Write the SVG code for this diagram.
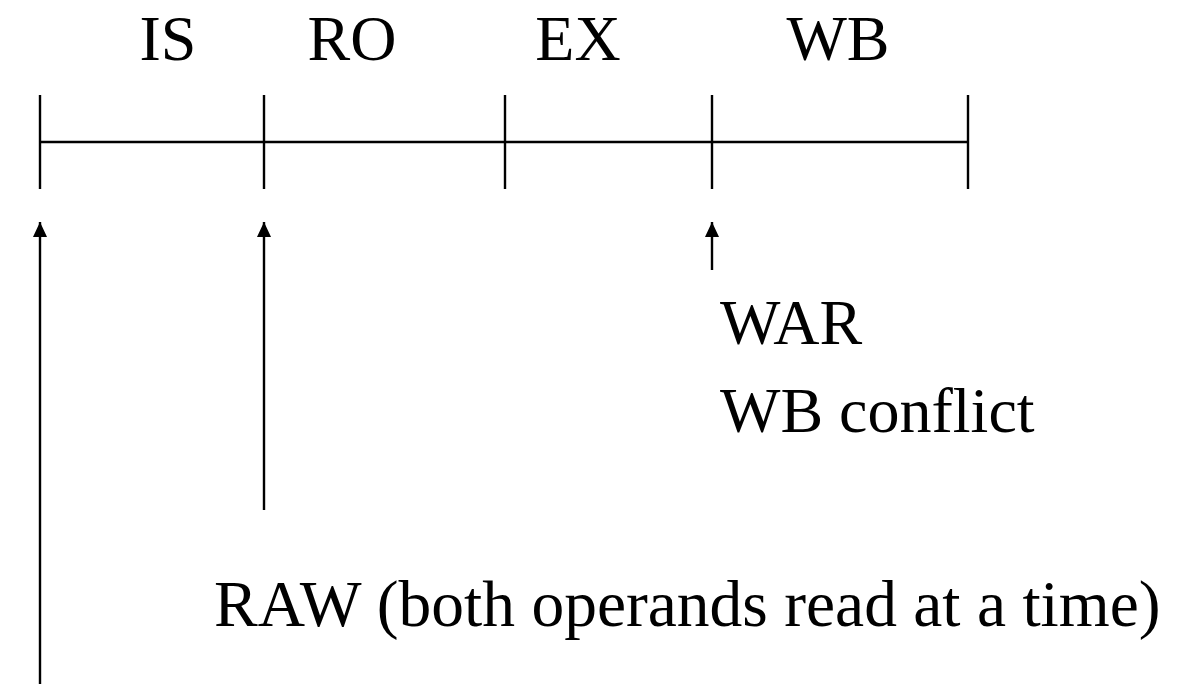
<svg xmlns="http://www.w3.org/2000/svg" width="1180" height="684" viewBox="0 0 1180 684">
<style>
.t{font-family:"Liberation Serif","Times New Roman",serif;font-size:64px;fill:#000}
.ln{stroke:#000;stroke-width:2.4;fill:none}
</style>
<defs>
<marker id="ah" viewBox="0 0 15 14" refX="15" refY="7" markerWidth="15" markerHeight="14" markerUnits="userSpaceOnUse" orient="auto">
<path d="M0,0 L15,7 L0,14 Z" fill="#000"/>
</marker>
</defs>
<rect width="1180" height="684" fill="#fff"/>
<g id="stages">
<text class="t" x="168" y="60" text-anchor="middle">IS</text>
<text class="t" x="352" y="60" text-anchor="middle">RO</text>
<text class="t" x="578" y="60" text-anchor="middle">EX</text>
<text class="t" x="838" y="60" text-anchor="middle">WB</text>
</g>
<g id="timeline">
<line class="ln" x1="40" y1="142" x2="968" y2="142"/>
<line class="ln" x1="40" y1="95" x2="40" y2="189"/>
<line class="ln" x1="264" y1="95" x2="264" y2="189"/>
<line class="ln" x1="505" y1="95" x2="505" y2="189"/>
<line class="ln" x1="712" y1="95" x2="712" y2="189"/>
<line class="ln" x1="968" y1="95" x2="968" y2="189"/>
</g>
<g id="connectors">
<line class="ln" x1="40" y1="684" x2="40" y2="222" marker-end="url(#ah)"/>
<line class="ln" x1="264" y1="510" x2="264" y2="222" marker-end="url(#ah)"/>
<line class="ln" x1="712" y1="270" x2="712" y2="222" marker-end="url(#ah)"/>
</g>
<g id="war">
<text class="t" x="720" y="344">WAR</text>
<text class="t" x="720" y="432">WB conflict</text>
</g>
<g id="raw">
<text class="t" x="214" y="626" style="font-size:65.5px">RAW (both operands read at a time)</text>
</g>
</svg>
